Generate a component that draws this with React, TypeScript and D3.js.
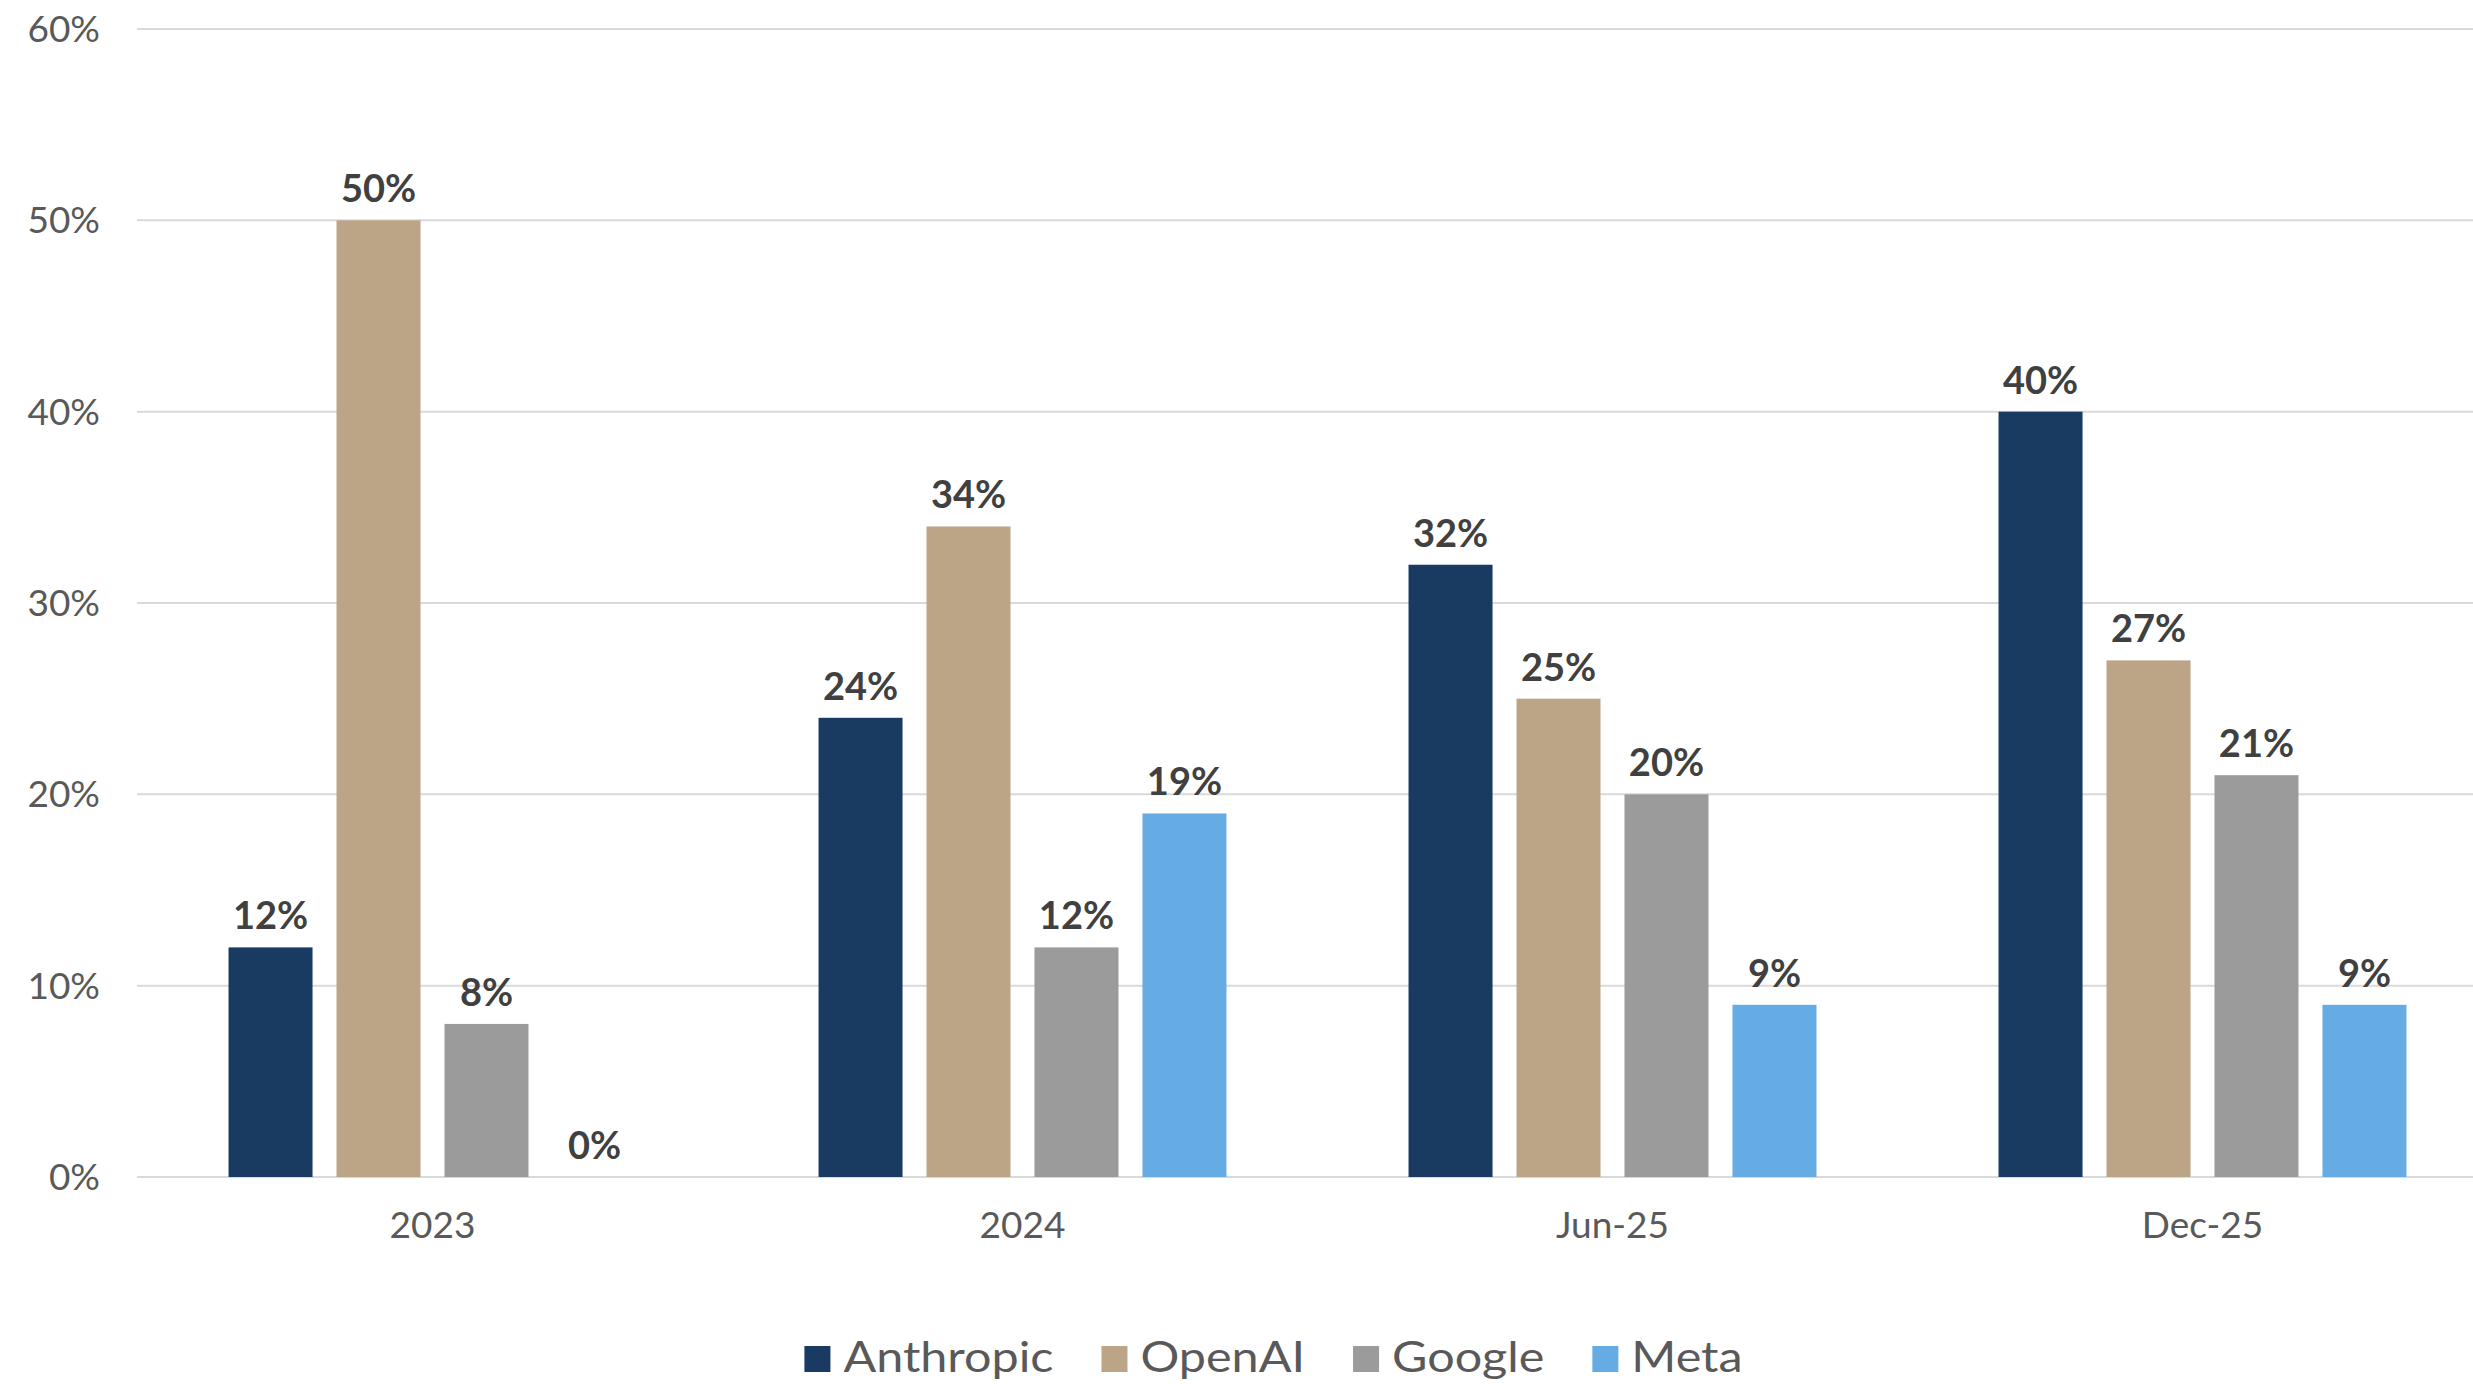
import React, { useEffect, useRef } from 'react'
import * as d3 from 'd3'

const periods = ['2023', '2024', 'Jun-25', 'Dec-25']
const companies = ['Anthropic', 'OpenAI', 'Google', 'Meta']
const anthropic = [12, 24, 32, 40]
const openai = [50, 34, 25, 27]
const google = [8, 12, 20, 21]
const meta = [0, 19, 9, 9]
const colors = ['#193b61', '#bca586', '#9b9b9b', '#66ace4']
const yTicks = [0, 10, 20, 30, 40, 50, 60]

const W = 2473
const H = 1384

export default function App() {
  const ref = useRef<SVGSVGElement | null>(null)

  useEffect(() => {
    document.body.style.margin = '0'
    const svg = d3.select(ref.current)
    svg.selectAll('*').remove()

    const series = [anthropic, openai, google, meta]
    const rows = periods.map((p, i) => ({
      period: p,
      values: companies.map((c, j) => ({ company: c, value: series[j][i] })),
    }))

    const x0 = d3.scaleBand().domain(periods).range([137.5, 2497.5])
    const x1 = d3.scaleBand().domain(companies).range([0, x0.bandwidth()])
      .paddingInner(0.222).paddingOuter(0.843)
    const y = d3.scaleLinear().domain([0, 60]).range([1177, 29])
    const color = d3.scaleOrdinal<string, string>().domain(companies).range(colors)

    // gridlines
    svg.append('g').selectAll('line').data(yTicks).join('line')
      .attr('x1', 137).attr('x2', W)
      .attr('y1', d => y(d)).attr('y2', d => y(d))
      .attr('stroke', '#d9d9d9').attr('stroke-width', 2)

    // y tick labels
    svg.append('g').selectAll('text').data(yTicks).join('text')
      .attr('x', 100).attr('y', d => y(d)).attr('dy', '0.35em')
      .attr('text-anchor', 'end')
      .attr('font-family', 'Lato').attr('font-size', 37).attr('fill', '#595959')
      .text(d => `${d}%`)

    const groups = svg.append('g').selectAll('g').data(rows).join('g')
      .attr('transform', d => `translate(${x0(d.period)},0)`)

    groups.selectAll('rect').data(d => d.values).join('rect')
      .attr('x', d => x1(d.company)!)
      .attr('width', x1.bandwidth())
      .attr('y', d => y(d.value))
      .attr('height', d => y(0) - y(d.value))
      .attr('fill', d => color(d.company))

    groups.selectAll('text').data(d => d.values).join('text')
      .attr('x', d => x1(d.company)! + x1.bandwidth() / 2)
      .attr('y', d => y(d.value) - 18)
      .attr('text-anchor', 'middle')
      .attr('font-family', 'Lato').attr('font-weight', 'bold')
      .attr('font-size', 38).attr('fill', '#404040')
      .text(d => `${d.value}%`)

    // category labels
    svg.append('g').selectAll('text').data(periods).join('text')
      .attr('x', d => x0(d)! + x0.bandwidth() / 2)
      .attr('y', 1238)
      .attr('text-anchor', 'middle')
      .attr('font-family', 'Lato').attr('font-size', 37).attr('fill', '#595959')
      .text(d => d)

    // legend (text is a bit stretched sideways in the original)
    const stretch = 1.155
    const legend = svg.append('g')
    const items = legend.selectAll('g').data(companies).join('g')
    items.append('rect').attr('width', 26).attr('height', 26).attr('y', 1346)
      .attr('fill', d => color(d))
    const labels = items.append('text')
      .attr('transform', `translate(39,1372) scale(${stretch},1)`)
      .attr('font-family', 'Lato').attr('font-size', 42).attr('fill', '#595959')
      .text(d => d)
    const lens = labels.nodes().map(n => (n as SVGTextElement).getComputedTextLength() * stretch)
    const widths = lens.map(l => 39 + l)
    const total = d3.sum(widths) + 48 * (companies.length - 1)
    let cx = 1273.5 - total / 2
    items.attr('transform', (_d, i) => {
      const t = `translate(${cx},0)`
      cx += widths[i] + 48
      return t
    })
  }, [])

  return <svg ref={ref} width={W} height={H} style={{ display: 'block', background: '#fff' }} />
}
